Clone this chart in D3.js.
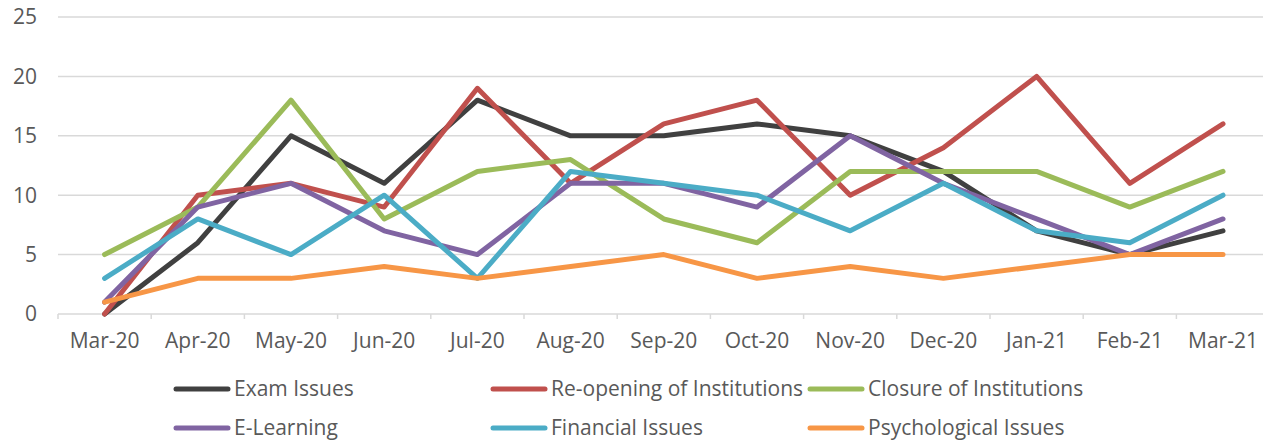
<!DOCTYPE html>
<html>
<head>
<meta charset="utf-8">
<script src="https://cdn.jsdelivr.net/npm/d3@7"></script>
<style>
body{margin:0;background:#fff;}
svg text{font-family:"Open Sans",sans-serif;fill:#595959;}
</style>
</head>
<body>
<svg width="1263" height="440"></svg>
<script>
var months = ['Mar-20','Apr-20','May-20','Jun-20','Jul-20','Aug-20','Sep-20','Oct-20','Nov-20','Dec-20','Jan-21','Feb-21','Mar-21'];
var names = ['Exam Issues','Re-opening of Institutions','Closure of Institutions','E-Learning','Financial Issues','Psychological Issues'];
var colors = ['#404040','#c0504d','#9bbb59','#8064a2','#4bacc6','#f79646'];
var exam = [0,6,15,11,18,15,15,16,15,12,7,5,7];
var reopen = [0,10,11,9,19,11,16,18,10,14,20,11,16];
var closure = [5,9,18,8,12,13,8,6,12,12,12,9,12];
var elearn = [1,9,11,7,5,11,11,9,15,11,8,5,8];
var finance = [3,8,5,10,3,12,11,10,7,11,7,6,10];
var psych = [1,3,3,4,3,4,5,3,4,3,4,5,5];
var yTicks = [0,5,10,15,20,25];

var series = [exam,reopen,closure,elearn,finance,psych];

var svg = d3.select('svg');
var plotL = 58, plotR = 1263, plotT = 17, plotB = 314;

var x = d3.scaleBand().domain(months).range([plotL,plotL+93.2*13]);
var y = d3.scaleLinear().domain([0,25]).range([plotB,plotT]);

// grid
svg.append('g').selectAll('line').data(yTicks).enter().append('line')
  .attr('x1',plotL).attr('x2',plotR)
  .attr('y1',function(d){return y(d);}).attr('y2',function(d){return y(d);})
  .attr('stroke','#d9d9d9').attr('stroke-width',1.5);

// y labels
svg.append('g').selectAll('text').data(yTicks).enter().append('text')
  .attr('x',37).attr('y',function(d){return y(d);})
  .attr('dy','0.35em').attr('text-anchor','end')
  .style('font-size','21px').text(function(d){return d;});

// x ticks
var bounds = months.map(function(m){return x(m);});
svg.append('g').selectAll('line').data(bounds).enter().append('line')
  .attr('x1',function(d){return d;}).attr('x2',function(d){return d;})
  .attr('y1',plotB).attr('y2',plotB+5)
  .attr('stroke','#d9d9d9').attr('stroke-width',1.5);

svg.append('g').selectAll('text').data(months).enter().append('text')
  .attr('x',function(d){return x(d)+x.bandwidth()/2;})
  .attr('y',348).attr('text-anchor','middle')
  .style('font-size','21px').text(function(d){return d;});

// lines
var line = d3.line()
  .x(function(d,i){return x(months[i])+x.bandwidth()/2;})
  .y(function(d){return y(d);});

svg.append('g').selectAll('path').data(series).enter().append('path')
  .attr('d',function(d){return line(d);})
  .attr('fill','none')
  .attr('stroke',function(d,i){return colors[i];})
  .attr('stroke-width',5)
  .attr('stroke-linejoin','round')
  .attr('stroke-linecap','round');

// legend
var lg = svg.append('g').selectAll('g').data(names).enter().append('g')
  .attr('transform',function(d,i){return 'translate('+(174+(i%3)*317)+','+(i<3?389:428)+')';});
lg.append('line').attr('x1',2).attr('x2',54).attr('y1',0).attr('y2',0)
  .attr('stroke',function(d,i){return colors[i];})
  .attr('stroke-width',5).attr('stroke-linecap','round');
lg.append('text').attr('x',60).attr('y',0).attr('dy','0.32em')
  .style('font-size','21px').text(function(d){return d;});
</script>
</body>
</html>
